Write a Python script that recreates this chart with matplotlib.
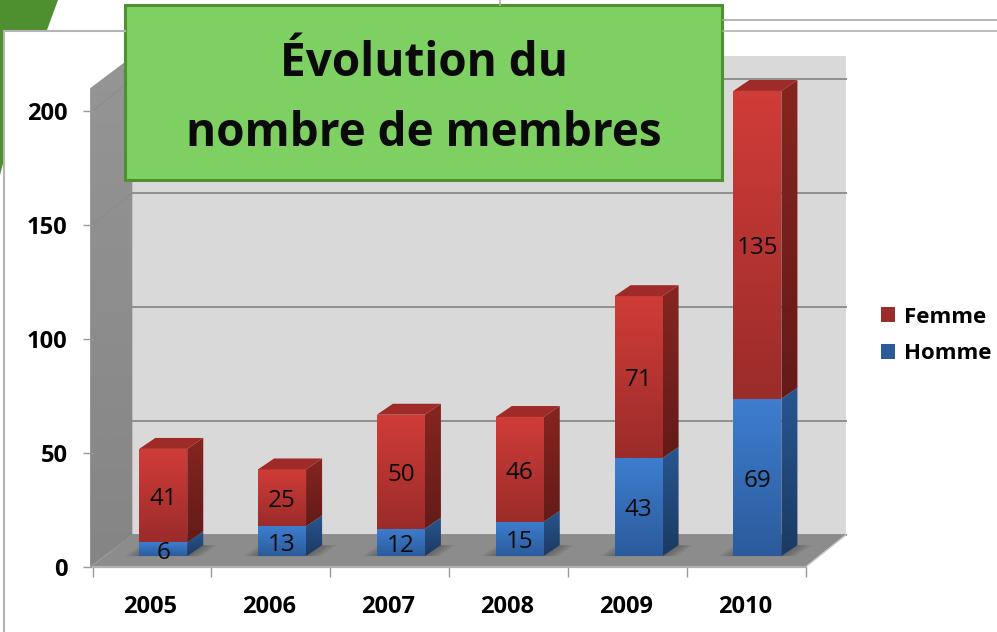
import numpy as np
from matplotlib import pyplot as plt
from matplotlib.colors import LinearSegmentedColormap
from matplotlib.patches import Polygon, Rectangle

years = ['2005', '2006', '2007', '2008', '2009', '2010']
homme = [6, 13, 12, 15, 43, 69]
femme = [41, 25, 50, 46, 71, 135]
y_ticks = [0, 50, 100, 150, 200]
title_lines = ['Évolution du', 'nombre de membres']

plt.rcParams['font.family'] = ['Open Sans', 'DejaVu Sans']

# depth of the fake 3D box, in data units
wall_dx, wall_dy = 0.337, 14.0
bar_dx, bar_dy = 0.135, 4.8
cap_dx, cap_dy = 0.135, 4.8
bar_width = 0.404
y_top = 210


def gradient_fill(ax, verts, top_color, bottom_color, zorder):
    # imshow clipped to a polygon, matplotlib has no gradient fill
    verts = np.array(verts)
    cmap = LinearSegmentedColormap.from_list('g', [top_color, bottom_color])
    patch = Polygon(verts, closed=True, fc='none', ec='none', zorder=zorder, clip_on=False)
    ax.add_patch(patch)
    extent = [verts[:, 0].min(), verts[:, 0].max(), verts[:, 1].min(), verts[:, 1].max()]
    im = ax.imshow(np.linspace(0, 1, 64).reshape(-1, 1), cmap=cmap, extent=extent, origin='upper',
                   aspect='auto', zorder=zorder, interpolation='bilinear')
    im.set_clip_box(fig.bbox)
    im.set_clip_path(patch)


fig = plt.figure(figsize=(9.97, 6.32), dpi=100)
ax = fig.add_axes([92.5 / 997, (632 - 567) / 632, 713 / 997, 456 / 632])
ax.patch.set_visible(False)

x = np.arange(len(years))
x0, x1 = -0.5, len(years) - 0.5

# Walls and floor
ax.add_patch(Polygon([(x0 + wall_dx, wall_dy), (x1 + wall_dx, wall_dy), (x1 + wall_dx, y_top + wall_dy),
                      (x0 + wall_dx, y_top + wall_dy)], fc='#d9d9d9', ec='none', zorder=1, clip_on=False))
gradient_fill(ax, [(x0 - 0.02, 0), (x0 + wall_dx, wall_dy), (x0 + wall_dx, y_top + wall_dy), (x0 - 0.02, y_top)],
              '#959595', '#858585', 1)
ax.add_patch(Polygon([(x0 - 0.02, 0), (x1, 0), (x1 + wall_dx, wall_dy), (x0 + wall_dx, wall_dy)],
                     fc='#8c8c8c', ec='none', zorder=2, clip_on=False))
for v in y_ticks:
    ax.plot([x0 + wall_dx, x1 + wall_dx], [v + wall_dy, v + wall_dy], color='#8f8f8f', lw=1.4, zorder=1.5,
            clip_on=False)
    ax.plot([x0, x0 + wall_dx], [v, v + wall_dy], color='#8a8a8a', lw=0.6, zorder=1.5, clip_on=False)

# Stacked bars
bx = x + bar_dx - 0.04
blue_bars = ax.bar(bx, homme, bar_width, bottom=bar_dy, color='#2a5c9a', label='Homme', zorder=4, clip_on=False)
red_bars = ax.bar(bx, femme, bar_width, bottom=bar_dy + np.array(homme), color='#9a2d2b', label='Femme', zorder=4,
                  clip_on=False)

for i in range(len(years)):
    left, right = bx[i] - bar_width / 2, bx[i] + bar_width / 2
    h, f = homme[i], femme[i]
    base, mid, top = bar_dy, bar_dy + h, bar_dy + h + f

    # shadow on the floor
    for grow in [0.12, 0.095, 0.07, 0.045, 0.02]:
        ax.add_patch(Polygon([(left - grow, base), (right + grow, base),
                              (right + cap_dx + grow, base + cap_dy), (left + cap_dx - grow, base + cap_dy)],
                             fc='#333333', ec='none', alpha=0.09, zorder=3, clip_on=False))

    gradient_fill(ax, [(left, base), (right, base), (right, mid), (left, mid)], '#3e7ecf', '#2b5b9c', 5)
    gradient_fill(ax, [(left, mid), (right, mid), (right, top), (left, top)], '#d03c38', '#9b2c2a', 5)
    gradient_fill(ax, [(right, base), (right + cap_dx, base + cap_dy), (right + cap_dx, mid + cap_dy), (right, mid)],
                  '#285690', '#1c3a63', 5)
    gradient_fill(ax, [(right, mid), (right + cap_dx, mid + cap_dy), (right + cap_dx, top + cap_dy), (right, top)],
                  '#86251f', '#641b18', 5)
    ax.add_patch(Polygon([(left, top), (right, top), (right + cap_dx, top + cap_dy), (left + cap_dx, top + cap_dy)],
                         fc='#9e2b27', ec='none', zorder=5, clip_on=False))

    ax.text(bx[i], base + h / 2 - 1.5, str(h), ha='center', va='center', fontsize=17.5, color='#0a0a0a', zorder=6)
    ax.text(bx[i], mid + f / 2 - 1.5, str(f), ha='center', va='center', fontsize=17.5, color='#0a0a0a', zorder=6)

ax.set_xlim(x0, x1)
ax.set_ylim(0, 200)
ax.set_yticks(y_ticks)
ax.set_xticks(x - 0.012)
ax.set_xticklabels(years, fontsize=17, fontweight='bold')
ax.set_xticks(np.arange(x0, x1 + 0.5), minor=True)
ax.tick_params(axis='x', which='major', length=0, pad=20)
ax.tick_params(axis='x', which='minor', length=7, color='#999999', width=1)
ax.tick_params(axis='y', length=7, color='#999999', width=1, pad=11, labelsize=17)
for label in ax.get_yticklabels():
    label.set_fontweight('bold')
for name in ['top', 'right', 'left']:
    ax.spines[name].set_visible(False)
ax.spines['bottom'].set_color('#b0b0b0')
ax.spines['bottom'].set_linewidth(1.6)
ax.spines['bottom'].set_zorder(2.5)
ax.plot([x1, x1 + wall_dx], [0, wall_dy], color='#c4c4c4', lw=1, zorder=2.5, clip_on=False)

ax.legend([red_bars, blue_bars], ['Femme', 'Homme'], loc='upper left', bbox_to_anchor=(874 / 997, (632 - 300) / 632),
          bbox_transform=fig.transFigure, frameon=False, handlelength=0.65, handleheight=0.65, handletextpad=0.4,
          labelspacing=0.7, borderpad=0.3, borderaxespad=0, prop={'size': 16, 'weight': 'bold'})

# Slide decoration and title box, in pixel coordinates
deco = fig.add_axes([0, 0, 1, 1], zorder=10)
deco.patch.set_visible(False)
deco.set_xlim(0, 997)
deco.set_ylim(632, 0)
deco.axis('off')
deco.add_patch(Polygon([(0, 0), (58, 0), (47, 30), (4, 30), (4, 160), (0, 175)], fc='#4e8f2f', ec='none'))
deco.plot([4, 4, 125], [632, 30.5, 30.5], color='#b4b4b4', lw=1.5)
deco.plot([723, 997], [31, 31], color='#b0b0b0', lw=1.2)
deco.plot([723, 997], [20, 20], color='#a8a8a8', lw=1.2)
deco.plot([500, 500], [0, 5], color='#b0b0b0', lw=1.2)
deco.add_patch(Rectangle((125, 5), 597, 175, fc='#7ed063', ec='#4f9130', lw=2.2))
for text, y in zip(title_lines, [63, 133]):
    deco.text(424, y, text, ha='center', va='center', fontsize=33, fontweight='bold', color='#0a0a0a')

fig.savefig('out.png', dpi=100)
